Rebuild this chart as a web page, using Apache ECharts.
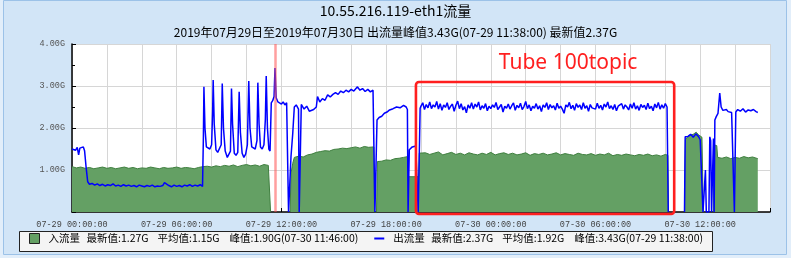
<!DOCTYPE html>
<html><head><meta charset="utf-8">
<script src="https://cdn.jsdelivr.net/npm/echarts@6/dist/echarts.min.js"></script>
<style>html,body{margin:0;padding:0;background:#e2eefa;} #c{width:791px;height:258px;}</style>
</head><body><div id="c"></div>
<script>
// ---- data ----
const titleText = '10.55.216.119-eth1流量';
const subText = '2019年07月29日至2019年07月30日 出流量峰值3.43G(07-29 11:38:00) 最新值2.37G';
const xTickLabels = ['07-29 00:00:00','07-29 06:00:00','07-29 12:00:00','07-29 18:00:00','07-30 00:00:00','07-30 06:00:00','07-30 12:00:00'];
const seriesNames = ['入流量','出流量'];
const inStats = ['1.27G','1.15G','1.90G(07-30 11:46:00)'];
const outStats = ['2.37G','1.92G','3.43G(07-29 11:38:00)'];
const peakHour = 11.633;
const noteText = 'Tube 100topic';
const noteBox = [19.71, 34.51, -0.048, 3.095]; // hours from, hours to, value low, value high
const noteAnchor = [28.43, 3.54];

// hours since 07-29 00:00, value in G (null = no data)
const inData = [[0,1.08],[0.25,1.05],[0.5,1.07],[0.75,1.04],[1,1.06],[1.25,1.03],[1.5,1.05],[1.75,1.07],[2,1.04],[2.25,1.06],[2.5,1.03],[2.75,1.05],[3,1.07],[3.25,1.04],[3.5,1.06],[3.75,1.03],[4,1.05],[4.25,1.04],[4.5,1.07],[4.75,1.05],[5,1.03],[5.25,1.06],[5.5,1.04],[5.75,1.05],[6,1.07],[6.25,1.04],[6.5,1.06],[6.75,1.05],[7,1.03],[7.25,1.06],[7.5,1.08],[7.75,1.09],[8,1.07],[8.25,1.1],[8.5,1.08],[8.75,1.11],[9,1.09],[9.25,1.12],[9.5,1.08],[9.75,1.11],[10,1.13],[10.25,1.1],[10.5,1.12],[10.75,1.09],[11,1.13],[11.25,1.11],[11.36,1.12],[11.38,0],[11.4,null],[12.48,null],[12.5,0],[12.55,0.92],[12.65,1.16],[12.74,1.3],[13,1.33],[13.25,1.31],[13.5,1.36],[13.75,1.38],[14,1.42],[14.25,1.44],[14.5,1.46],[14.75,1.45],[15,1.49],[15.25,1.5],[15.5,1.52],[15.75,1.51],[16,1.53],[16.25,1.55],[16.5,1.52],[16.75,1.56],[17,1.54],[17.3,1.55],[17.33,0],[17.45,0],[17.5,1.2],[17.75,1.21],[18,1.24],[18.25,1.23],[18.5,1.27],[18.75,1.28],[19,1.3],[19.25,1.32],[19.29,0.84],[19.87,0.84],[19.9,1.4],[20,1.38],[20.25,1.41],[20.5,1.37],[20.75,1.4],[21,1.43],[21.25,1.36],[21.5,1.39],[21.75,1.42],[22,1.37],[22.25,1.4],[22.5,1.36],[22.75,1.41],[23,1.38],[23.25,1.36],[23.5,1.4],[23.75,1.37],[24,1.42],[24.25,1.36],[24.5,1.39],[24.75,1.41],[25,1.37],[25.25,1.4],[25.5,1.36],[25.75,1.38],[26,1.41],[26.25,1.35],[26.5,1.39],[26.75,1.37],[27,1.4],[27.25,1.36],[27.5,1.38],[27.75,1.41],[28,1.36],[28.25,1.39],[28.5,1.37],[28.75,1.35],[29,1.4],[29.25,1.37],[29.5,1.36],[29.75,1.39],[30,1.35],[30.25,1.38],[30.5,1.36],[30.75,1.4],[31,1.34],[31.25,1.37],[31.5,1.35],[31.75,1.38],[32,1.36],[32.25,1.34],[32.5,1.37],[32.75,1.35],[33,1.38],[33.25,1.34],[33.5,1.36],[33.75,1.33],[34,1.37],[34.15,1.35],[34.18,0],[34.2,null],[35.08,null],[35.1,0],[35.15,1.72],[35.3,1.8],[35.45,1.83],[35.6,1.85],[35.77,1.9],[35.9,1.84],[36,1.8],[36.1,1.78],[36.15,1.76],[36.18,0],[36.2,null],[36.73,null],[36.75,0],[36.78,1.6],[36.95,1.58],[37,1.3],[37.25,1.28],[37.5,1.31],[37.75,1.27],[38,1.3],[38.25,1.28],[38.5,1.32],[38.75,1.29],[39,1.31],[39.3,1.27]];

const outData = [[0,1.5],[0.1,1.53],[0.2,1.47],[0.3,1.54],[0.38,1.36],[0.45,1.52],[0.55,1.49],[0.65,1.55],[0.72,1.46],[0.8,1.1],[0.9,0.72],[1,0.66],[1.15,0.68],[1.3,0.64],[1.45,0.67],[1.6,0.63],[1.75,0.66],[1.9,0.62],[2.05,0.65],[2.2,0.63],[2.35,0.67],[2.5,0.62],[2.65,0.64],[2.8,0.61],[2.95,0.65],[3.1,0.62],[3.25,0.64],[3.4,0.61],[3.55,0.63],[3.7,0.6],[3.85,0.64],[4,0.62],[4.15,0.6],[4.3,0.63],[4.45,0.61],[4.6,0.64],[4.75,0.6],[4.9,0.62],[5.05,0.61],[5.2,0.63],[5.3,0.7],[5.4,0.66],[5.55,0.63],[5.7,0.6],[5.85,0.64],[6,0.61],[6.15,0.63],[6.3,0.6],[6.45,0.64],[6.6,0.62],[6.75,0.65],[6.9,0.61],[7.05,0.64],[7.2,0.62],[7.35,0.65],[7.48,0.61],
[7.53,1.8],[7.56,2.98],[7.62,2.0],[7.7,1.55],[7.8,1.52],[7.9,1.5],[8,1.6],[8.06,2.4],[8.09,3.14],[8.15,2.1],[8.25,1.48],[8.35,1.42],[8.45,1.38],[8.55,1.6],[8.61,3.06],[8.68,2.0],[8.78,1.45],[8.9,1.3],[9,1.27],[9.08,1.45],[9.14,2.94],[9.2,2.1],[9.3,1.4],[9.4,1.35],[9.5,1.42],[9.58,2.86],[9.65,1.9],[9.75,1.4],[9.85,1.3],[9.95,1.38],[10.05,1.6],[10.13,3.12],[10.2,2.0],[10.3,1.55],[10.4,1.58],[10.5,1.5],[10.6,1.7],[10.65,3.08],[10.72,2.1],[10.8,1.55],[10.9,1.5],[11,1.6],[11.08,2.2],[11.13,3.24],[11.2,2.0],[11.28,1.5],[11.35,1.45],[11.42,2.6],[11.5,2.65],[11.58,2.75],[11.633,3.43],[11.7,2.72],[11.8,2.62],[11.9,2.6],[12,2.57],[12.1,2.62],[12.2,2.55],[12.3,2.6],[12.38,2.58],[12.41,0],[12.5,0],[12.55,1.32],[12.65,1.87],[12.74,2.5],[12.85,2.55],[12.98,2.45],[13.02,0],[13.1,0],[13.14,2.56],[13.3,2.45],[13.45,2.52],[13.6,2.4],[13.7,2.37],[13.85,2.44],[14,2.5],[14.07,2.75],[14.2,2.62],[14.35,2.7],[14.5,2.66],[14.65,2.79],[14.8,2.74],[14.95,2.8],[15.1,2.84],[15.25,2.8],[15.4,2.88],[15.55,2.84],[15.7,2.9],[15.85,2.86],[16,2.92],[16.15,2.88],[16.36,2.98],[16.5,2.9],[16.65,2.94],[16.8,2.87],[16.95,2.92],[17.1,2.86],[17.25,2.9],[17.32,2.87],[17.36,0],[17.44,0],[17.48,2.19],[17.6,2.25],[17.75,2.28],[17.9,2.35],[18.05,2.38],[18.2,2.43],[18.4,2.46],[18.6,2.5],[18.8,2.48],[19,2.54],[19.15,2.5],[19.22,2.44],[19.26,0],[19.33,1.48],[19.5,1.55],[19.7,1.57],[19.8,1.55],[19.84,0],[19.9,0],[19.95,2.47],
[20,2.52],[20.1,2.6],[20.2,2.44],[20.3,2.56],[20.4,2.48],[20.5,2.62],[20.6,2.46],[20.7,2.55],[20.8,2.5],[20.9,2.63],[21,2.45],[21.1,2.58],[21.2,2.42],[21.3,2.55],[21.4,2.49],[21.5,2.6],[21.6,2.44],[21.7,2.52],[21.8,2.57],[21.9,2.4],[22,2.54],[22.1,2.64],[22.2,2.46],[22.3,2.58],[22.4,2.43],[22.5,2.51],[22.6,2.36],[22.7,2.55],[22.8,2.47],[22.9,2.6],[23,2.45],[23.1,2.57],[23.2,2.5],[23.3,2.62],[23.4,2.43],[23.5,2.53],[23.6,2.47],[23.7,2.58],[23.8,2.41],[23.9,2.52],[24,2.46],[24.1,2.55],[24.2,2.49],[24.3,2.61],[24.4,2.44],[24.5,2.5],[24.6,2.56],[24.7,2.38],[24.8,2.52],[24.9,2.47],[25,2.57],[25.1,2.45],[25.2,2.53],[25.3,2.6],[25.4,2.42],[25.5,2.54],[25.6,2.48],[25.7,2.59],[25.8,2.44],[25.9,2.51],[26,2.63],[26.1,2.46],[26.2,2.55],[26.3,2.41],[26.4,2.52],[26.5,2.47],[26.6,2.58],[26.7,2.45],[26.8,2.53],[26.9,2.39],[27,2.55],[27.1,2.49],[27.2,2.6],[27.3,2.44],[27.4,2.56],[27.5,2.48],[27.6,2.53],[27.7,2.43],[27.8,2.59],[27.9,2.47],[28,2.52],[28.1,2.45],[28.2,2.35],[28.3,2.55],[28.4,2.5],[28.5,2.61],[28.6,2.46],[28.7,2.54],[28.8,2.42],[28.9,2.58],[29,2.49],[29.1,2.55],[29.2,2.44],[29.3,2.6],[29.4,2.47],[29.5,2.53],[29.6,2.4],[29.7,2.56],[29.8,2.48],[29.9,2.52],[30,2.45],[30.1,2.59],[30.2,2.47],[30.3,2.54],[30.4,2.43],[30.5,2.57],[30.6,2.5],[30.7,2.62],[30.8,2.46],[30.9,2.53],[31,2.44],[31.1,2.56],[31.2,2.41],[31.3,2.52],[31.4,2.48],[31.5,2.58],[31.6,2.45],[31.7,2.55],[31.8,2.5],[31.9,2.43],[32,2.57],[32.1,2.47],[32.2,2.6],[32.3,2.45],[32.4,2.53],[32.5,2.42],[32.6,2.56],[32.7,2.49],[32.8,2.54],[32.9,2.44],[33,2.59],[33.1,2.46],[33.2,2.52],[33.3,2.41],[33.4,2.57],[33.5,2.48],[33.6,2.61],[33.7,2.45],[33.8,2.55],[33.9,2.47],[34,2.58],[34.1,2.5],[34.17,0],[34.2,null],[35.08,null],[35.1,0],[35.14,1.79],[35.3,1.8],[35.45,1.85],[35.6,1.78],[35.75,1.86],[35.9,1.8],[36,1.72],[36.1,1.75],[36.16,0],[36.26,0],[36.3,1.0],[36.35,0],[36.5,0],[36.55,1.79],[36.6,1.7],[36.65,0],[36.72,0],[36.76,1.75],[36.8,0],[36.84,2.19],[36.92,2.27],[37.02,2.35],[37.12,2.83],[37.2,2.5],[37.3,2.42],[37.4,2.38],[37.5,2.44],[37.6,2.39],[37.7,2.42],[37.8,2.37],[37.9,2.41],[37.96,0],[38,0],[38.04,2.38],[38.15,2.44],[38.3,2.4],[38.45,2.46],[38.6,2.38],[38.75,2.43],[38.9,2.41],[39.05,2.44],[39.2,2.39],[39.3,2.37]];

// ---- chart ----
const cjk = '"Noto Sans CJK SC", "Noto Sans", sans-serif';
const mono = '"Liberation Mono", "DejaVu Sans Mono", monospace';
const statsByName = {};
statsByName[seriesNames[0]] = inStats;
statsByName[seriesNames[1]] = outStats;

const chart = echarts.init(document.getElementById('c'), null, {width: 791, height: 258});
const option = {
  animation: false,
  backgroundColor: '#e2eefa',
  title: {
    text: titleText, subtext: subText, left: 'center', top: -1, itemGap: 8,
    textStyle: {fontSize: 14, fontWeight: 'normal', color: '#000', fontFamily: cjk},
    subtextStyle: {fontSize: 12, color: '#000', fontFamily: cjk}
  },
  grid: {left: 72, right: 21, top: 44, bottom: 46, show: true, backgroundColor: '#fff', borderWidth: 0, outerBoundsMode: 'none'},
  xAxis: {
    type: 'value', min: 0, max: 40, interval: 2,
    axisLine: {show: true, onZero: false, lineStyle: {color: '#000', width: 1.5}},
    axisTick: {show: true, inside: true, length: 4, lineStyle: {color: '#000'}},
    splitLine: {show: true, lineStyle: {color: '#d6d6d6', width: 1}},
    axisLabel: {
      margin: 8, fontSize: 8.5, color: '#444', fontFamily: mono,
      formatter: v => (v % 6 === 0 && xTickLabels[v / 6]) ? xTickLabels[v / 6] : ''
    }
  },
  yAxis: {
    type: 'value', min: 0, max: 4, interval: 1,
    axisLine: {show: true, lineStyle: {color: '#000', width: 1.5}},
    axisTick: {show: true, inside: true, length: 4, lineStyle: {color: '#000'}},
    minorTick: {show: true, splitNumber: 2, length: 3, lineStyle: {color: '#000'}},
    splitLine: {show: true, lineStyle: {color: '#d6d6d6', width: 1}},
    axisLabel: {margin: 7, fontSize: 8.5, color: '#555', fontFamily: mono, formatter: v => v === 0 ? '' : v.toFixed(2) + 'G'}
  },
  legend: {
    left: 29, top: 233, padding: 0, itemWidth: 10, itemHeight: 10, itemGap: 16, selectedMode: false,
    data: [
      {name: seriesNames[0], icon: 'rect', itemStyle: {color: '#64a064', borderColor: '#222', borderWidth: 1}},
      {name: seriesNames[1], icon: 'path://M0,0L10,0L10,2L0,2Z', itemStyle: {color: '#0000ff', borderWidth: 0}}
    ],
    formatter: name => {
      const s = statsByName[name];
      return '{n|' + name + '}{a|最新值:' + s[0] + '}{b|平均值:' + s[1] + '}{c|峰值:' + s[2] + '}';
    },
    textStyle: {
      fontSize: 10.5, color: '#000', fontFamily: cjk, padding: [0, 0, 0, 4],
      rich: {n: {width: 38}, a: {width: 71}, b: {width: 72}, c: {width: 129}}
    }
  },
  graphic: [
    {type: 'rect', id: 'panel', silent: true, z: -10, shape: {x: 3.5, y: 0.5, width: 783, height: 254}, style: {fill: '#d2e5f7', stroke: '#9cc2e8', lineWidth: 1}},
    {type: 'rect', id: 'legendBox', silent: true, z: 1, shape: {x: 19.5, y: 231.5, width: 693, height: 20}, style: {fill: '#f4f4f4', stroke: '#222', lineWidth: 1}}
  ],
  series: [
    {
      name: seriesNames[0], type: 'line', data: inData, symbol: 'none', z: 2, connectNulls: false,
      lineStyle: {color: '#3f7f3f', width: 1},
      itemStyle: {color: '#64a064'},
      areaStyle: {color: '#64a064', opacity: 1}
    },
    {
      name: seriesNames[1], type: 'line', data: outData, symbol: 'none', z: 3, connectNulls: false,
      lineStyle: {color: '#0000ff', width: 1.5},
      itemStyle: {color: '#0000ff'},
      markLine: {
        silent: true, symbol: ['none', 'none'], label: {show: false},
        lineStyle: {color: 'rgba(255,80,80,0.55)', width: 2.5, type: 'solid'},
        data: [{xAxis: peakHour}]
      }
    }
  ]
};
chart.setOption(option);

const p0 = chart.convertToPixel({gridIndex: 0}, [noteBox[0], noteBox[3]]);
const p1 = chart.convertToPixel({gridIndex: 0}, [noteBox[1], noteBox[2]]);
const pt = chart.convertToPixel({gridIndex: 0}, noteAnchor);
chart.setOption({
  graphic: [
    {type: 'rect', id: 'noteRect', silent: true, z: 50,
     shape: {x: p0[0], y: p0[1], width: p1[0] - p0[0], height: p1[1] - p0[1], r: 3},
     style: {fill: 'none', stroke: '#ff1f1f', lineWidth: 2.6}},
    {type: 'text', id: 'noteText', silent: true, z: 50, x: pt[0], y: pt[1],
     style: {text: noteText, fill: '#ff1f1f', font: '21px "Noto Sans", sans-serif', textAlign: 'center', textVerticalAlign: 'middle'}}
  ]
});
</script>
</body></html>
